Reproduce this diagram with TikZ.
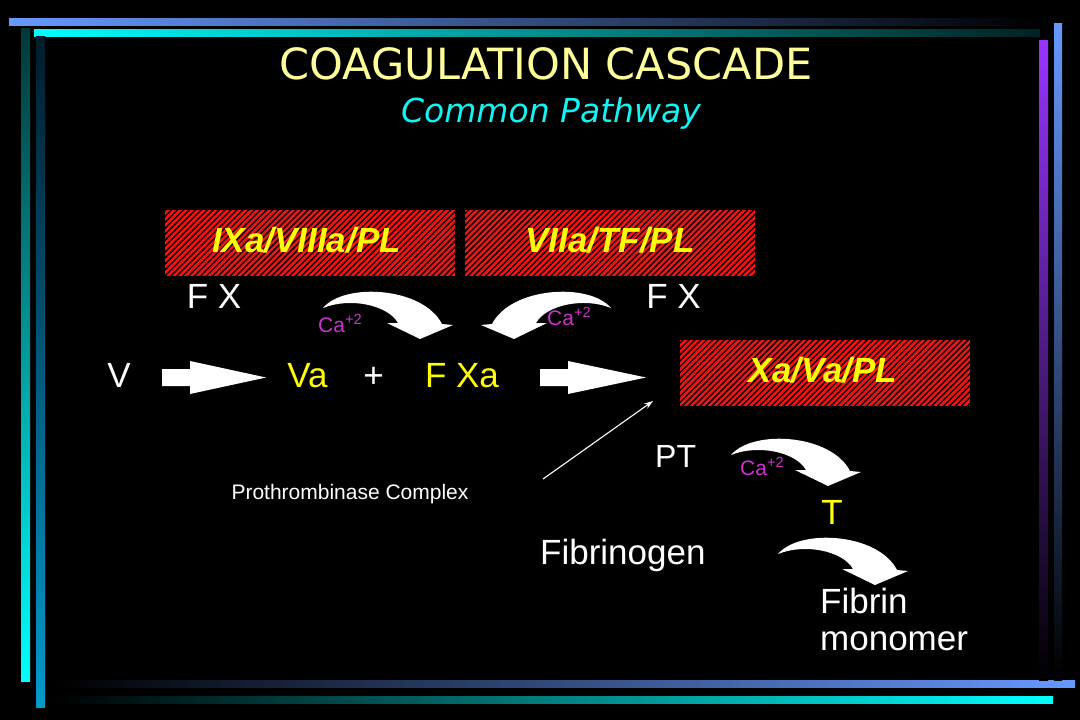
\documentclass[tikz,border=0pt]{standalone}
\usepackage{fontspec}
\setmainfont{Liberation Sans}
\newfontfamily\titlefont{DejaVu Sans}
\usetikzlibrary{patterns.meta,arrows.meta}
\definecolor{ttl}{HTML}{FFFF99}
\definecolor{subc}{HTML}{11F4F4}
\definecolor{ylw}{HTML}{FFFF00}
\definecolor{mag}{HTML}{CC33CC}
\definecolor{hred}{HTML}{FF1010}
\definecolor{lblue}{HTML}{6699FF}
\definecolor{cyn}{HTML}{00FFFF}
\definecolor{purp}{HTML}{9933FF}
\definecolor{dteal}{HTML}{003838}
\definecolor{dblue}{HTML}{001C2C}
\definecolor{mblue}{HTML}{0099CC}
\newcommand\curvarrow[1]{\fill[white,#1] (0,0) .. controls (22,-26) and (100,-21) .. (119,16) -- (130,17) -- (97,31) -- (64,15) -- (75,15) .. controls (65,-3) and (27,-11) .. (0,0) -- cycle;}
\begin{document}
\begin{tikzpicture}[x=1pt,y=-1pt,
  txt/.style={inner sep=0, anchor=base, text=white, font=\fontsize{35}{42}\selectfont},
  ytxt/.style={txt, text=ylw},
  hbox/.style={draw=none, preaction={fill=hred}, pattern={Lines[angle=45,distance=4.2pt,line width=1.5pt]}, pattern color=black, minimum width=290pt, minimum height=66pt, inner sep=0},
  boxlbl/.style={inner sep=0, anchor=base, text=ylw, font=\fontsize{35}{42}\selectfont\bfseries\itshape},
  ca/.style={inner sep=0, anchor=base west, text=mag, font=\fontsize{21}{25}\selectfont},
  blockarrow/.style={fill=white}]
\fill[black] (0,0) rectangle (1080,720);
\useasboundingbox (0,0) rectangle (1080,720);
% frame bars
\shade[left color=lblue, right color=black] (9,18) rectangle (1040,25);
\shade[left color=cyn, right color=dteal!60!black] (34,29) rectangle (1040,36);
\shade[top color=dteal, bottom color=cyn] (21,28) rectangle (30,681);
\shade[top color=dblue, bottom color=mblue] (36,36) rectangle (45,707);
\shade[left color=black, right color=lblue] (53,680) rectangle (1075,687);
\shade[left color=black, right color=cyn] (51,696) rectangle (1053,703);
\shade[top color=purp, bottom color=black] (1039,40) rectangle (1048,680);
\shade[top color=lblue, bottom color=black] (1054,23) rectangle (1062,680);
% titles
\node[inner sep=0, anchor=base, text=ttl, font=\titlefont\fontsize{43}{50}\selectfont] (title) at (546,79.5) {COAGULATION CASCADE};
\node[inner sep=0, anchor=base, text=subc, font=\titlefont\itshape\fontsize{33}{40}\selectfont] (subtitle) at (551,122) {Common Pathway};
% hatched boxes
\node[hbox] (box1) at (310,242.5) {};
\node[hbox] (box2) at (610,242.5) {};
\node[hbox] (box3) at (825,373) {};
\node[boxlbl] (lbl1) at (306.5,252) {IXa/VIIIa/PL};
\node[boxlbl] (lbl2) at (610,252) {VIIa/TF/PL};
\node[boxlbl] (lbl3) at (823,382) {Xa/Va/PL};
% F X labels
\node[txt] (fxl) at (214,308) {F X};
\node[txt] (fxr) at (673.5,308) {F X};
% curved arrows
\curvarrow{shift={(323,308)}}
\curvarrow{shift={(611,308)},xscale=-1}
\curvarrow{shift={(731,455)}}
\curvarrow{shift={(778,554)}}
\node[ca] (ca1) at (318,332) {Ca\textsuperscript{+2}};
\node[ca] (ca2) at (547,325) {Ca\textsuperscript{+2}};
\node[ca] (ca3) at (740,475) {Ca\textsuperscript{+2}};
% main row
\node[txt] (v) at (119,387) {V};
\node[ytxt] (va) at (307.5,387) {Va};
\node[txt] (plus) at (373.5,387) {+};
\node[ytxt] (fxa) at (462,387) {F Xa};
\fill[blockarrow] (162,369) -- (190,369) -- (190,361) -- (266,377.5) -- (190,394) -- (190,386) -- (162,386) -- cycle;
\fill[blockarrow] (540,369) -- (568,369) -- (568,361) -- (646,377.5) -- (568,394) -- (568,386) -- (540,386) -- cycle;
% prothrombinase pointer
\node[inner sep=0, anchor=base, text=white, font=\fontsize{21}{25}\selectfont] (ptc) at (350,499) {Prothrombinase Complex};
\coordinate (ptail) at (543,479);
\coordinate (phead) at (653,401);
\draw[white, line width=1.1pt, -{Stealth[length=9pt,width=6pt]}] (ptail) -- (phead);
% lower part
\node[inner sep=0, anchor=base west, text=white, font=\fontsize{32}{38}\selectfont] (pt) at (655,467) {PT};
\node[ytxt] (t) at (832,524) {T};
\node[txt, anchor=base west] (fibrinogen) at (540,564) {Fibrinogen};
\node[txt, anchor=base west] (fibrin) at (820,613) {Fibrin};
\node[txt, anchor=base west] (monomer) at (820,650) {monomer};
\end{tikzpicture}
\end{document}
